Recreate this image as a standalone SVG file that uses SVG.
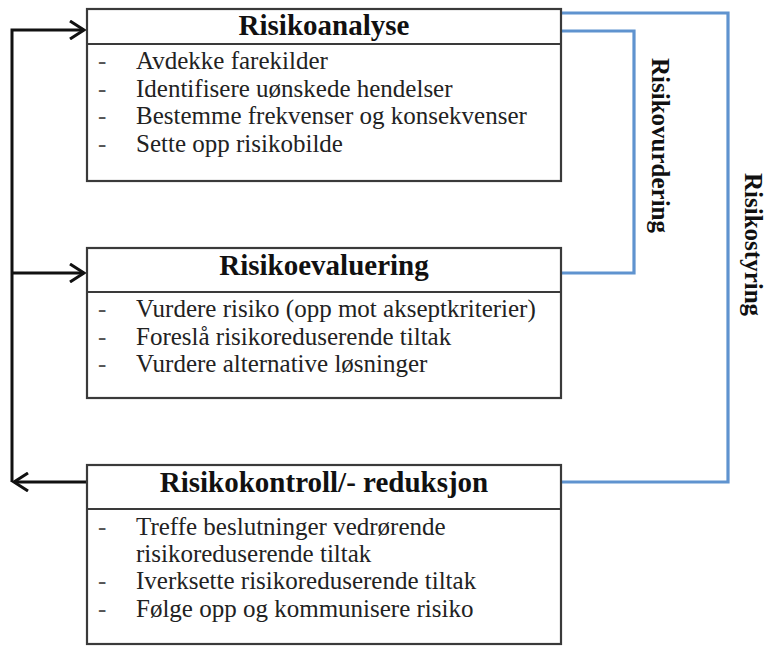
<svg xmlns="http://www.w3.org/2000/svg" width="768" height="646" viewBox="0 0 768 646">
  <defs>
    <style>
      .box { fill: #ffffff; stroke: #3a3a3a; stroke-width: 2.2; }
      .rule { stroke: #3a3a3a; stroke-width: 2.2; }
      .head { font-family: "Liberation Serif", "Times New Roman", serif; font-weight: bold; font-size: 29px; fill: #111; text-anchor: middle; }
      .item { font-family: "Liberation Serif", "Times New Roman", serif; font-size: 25px; fill: #222; }
      .dash { font-family: "Liberation Serif", "Times New Roman", serif; font-size: 25px; fill: #555; }
      .side { font-family: "Liberation Serif", "Times New Roman", serif; font-weight: bold; font-size: 25px; fill: #111; }
      .flow { fill: none; stroke: #111; stroke-width: 3; }
      .loop { fill: none; stroke: #5f93cf; stroke-width: 3.2; }
    </style>
    <marker id="head" viewBox="0 0 20 20" refX="17" refY="10" markerWidth="20" markerHeight="20" markerUnits="userSpaceOnUse" orient="auto">
      <path d="M3,1 L17,10 L3,19" fill="none" stroke="#111" stroke-width="3"/>
    </marker>
  </defs>

  <!-- connectors -->
  <g id="connectors">
    <path class="flow" d="M12,482 V30 H84" marker-end="url(#head)"/>
    <path class="flow" d="M12,273 H84" marker-end="url(#head)"/>
    <path class="flow" d="M87,482 H14" marker-end="url(#head)"/>
    <path class="loop" d="M562,31 H634 V273 H562"/>
    <path class="loop" d="M562,13 H728 V482 H562"/>
    <text class="side" transform="translate(652,58) rotate(90)">Risikovurdering</text>
    <text class="side" transform="translate(745,173) rotate(90)">Risikostyring</text>
  </g>

  <!-- Risikoanalyse -->
  <g id="risikoanalyse">
    <rect class="box" x="87" y="9" width="474" height="172"/>
    <line class="rule" x1="87" y1="44" x2="561" y2="44"/>
    <text class="head" x="324" y="35">Risikoanalyse</text>
    <text class="dash" x="98" y="69">-</text>
    <text class="item" x="136" y="69">Avdekke farekilder</text>
    <text class="dash" x="98" y="97">-</text>
    <text class="item" x="136" y="97">Identifisere uønskede hendelser</text>
    <text class="dash" x="98" y="124">-</text>
    <text class="item" x="136" y="124">Bestemme frekvenser og konsekvenser</text>
    <text class="dash" x="98" y="152">-</text>
    <text class="item" x="136" y="152">Sette opp risikobilde</text>
  </g>

  <!-- Risikoevaluering -->
  <g id="risikoevaluering">
    <rect class="box" x="87" y="248" width="474" height="150"/>
    <line class="rule" x1="87" y1="292" x2="561" y2="292"/>
    <text class="head" x="324" y="275">Risikoevaluering</text>
    <text class="dash" x="98" y="317">-</text>
    <text class="item" x="136" y="317">Vurdere risiko (opp mot akseptkriterier)</text>
    <text class="dash" x="98" y="345">-</text>
    <text class="item" x="136" y="345">Foreslå risikoreduserende tiltak</text>
    <text class="dash" x="98" y="372">-</text>
    <text class="item" x="136" y="372">Vurdere alternative løsninger</text>
  </g>

  <!-- Risikokontroll / reduksjon -->
  <g id="risikokontroll">
    <rect class="box" x="87" y="465" width="474" height="179"/>
    <line class="rule" x1="87" y1="509" x2="561" y2="509"/>
    <text class="head" x="324" y="492">Risikokontroll/- reduksjon</text>
    <text class="dash" x="98" y="535">-</text>
    <text class="item" x="136" y="535">Treffe beslutninger vedrørende</text>
    <text class="item" x="136" y="562">risikoreduserende tiltak</text>
    <text class="dash" x="98" y="589">-</text>
    <text class="item" x="136" y="589">Iverksette risikoreduserende tiltak</text>
    <text class="dash" x="98" y="617">-</text>
    <text class="item" x="136" y="617">Følge opp og kommunisere risiko</text>
  </g>
</svg>
